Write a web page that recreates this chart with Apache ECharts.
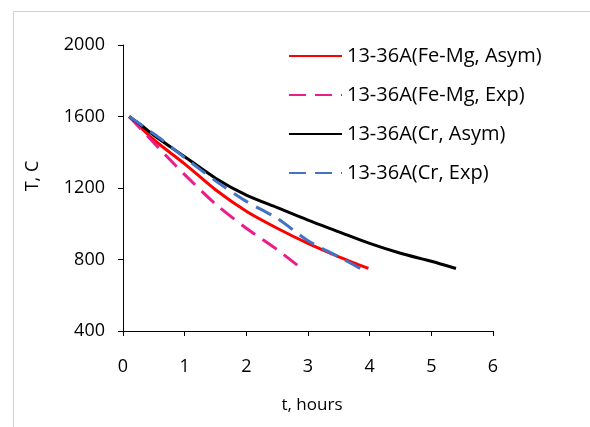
<!DOCTYPE html>
<html>
<head>
<meta charset="utf-8">
<script src="https://cdn.jsdelivr.net/npm/echarts@6/dist/echarts.min.js"></script>
<style>
html,body{margin:0;padding:0;background:#fff;}
#chart{width:590px;height:427px;}
</style>
</head>
<body>
<div id="chart"></div>
<script>
// Data (t in hours, T in °C)
var seriesNames = ['13-36A(Fe-Mg, Asym)', '13-36A(Fe-Mg, Exp)', '13-36A(Cr, Asym)', '13-36A(Cr, Exp)'];
var feMgAsym = [[0.1,1600],[0.5,1470],[1,1335],[1.5,1190],[2,1070],[2.5,975],[3,890],[3.5,815],[3.98,750]];
var feMgExp  = [[0.1,1600],[0.4,1490],[0.7,1380],[1,1275],[1.5,1110],[2,975],[2.5,855],[2.9,748]];
var crAsym   = [[0.1,1600],[0.3,1550],[0.5,1495],[1,1375],[1.5,1255],[2,1160],[2.5,1090],[3,1020],[3.5,955],[4,890],[4.5,835],[5,790],[5.4,750]];
var crExp    = [[0.1,1600],[0.3,1552],[0.6,1478],[1,1370],[1.5,1240],[2,1125],[2.5,1030],[3,905],[3.5,815],[3.87,745]];
var xTicks = [0,1,2,3,4,5,6];
var yTicks = [400,800,1200,1600,2000];
var xTitle = 't, hours';
var yTitle = 'T, C';

var font = '"Open Sans", "Noto Sans", sans-serif';
var chart = echarts.init(document.getElementById('chart'), null, {renderer:'canvas'});

function mk(name, data, color, dashed) {
  return {
    name: name, type: 'line', data: data, symbol: 'none', showSymbol: false, smooth: 0.25,
    lineStyle: {color: color, width: 3, type: dashed ? [17, 9] : 'solid', cap: 'butt'},
    itemStyle: {color: color},
    emphasis: {disabled: true}
  };
}

chart.setOption({
  animation: false,
  backgroundColor: '#fff',
  grid: {left: 123, right: 97, top: 45, bottom: 96, containLabel: false},
  xAxis: {
    type: 'value', min: xTicks[0], max: xTicks[xTicks.length-1], interval: 1,
    axisLine: {show: true, onZero: false, lineStyle: {color: '#000', width: 1}},
    axisTick: {show: true, length: 5, inside: false, lineStyle: {color: '#000'}},
    splitLine: {show: false},
    axisLabel: {fontFamily: font, fontSize: 18, color: '#000', margin: 27, formatter: function(v){return String(v);}}
  },
  yAxis: {
    type: 'value', min: yTicks[0], max: yTicks[yTicks.length-1], interval: 400,
    axisLine: {show: true, lineStyle: {color: '#000', width: 1}},
    axisTick: {show: true, length: 5, inside: false, lineStyle: {color: '#000'}},
    splitLine: {show: false},
    axisLabel: {fontFamily: font, fontSize: 18, color: '#000', margin: 18, formatter: function(v){return String(v);}}
  },
  legend: {
    orient: 'vertical', left: 288, top: 46, padding: 0,
    itemWidth: 53, itemHeight: 14, itemGap: 19,
    data: seriesNames,
    itemStyle: {opacity: 0},
    textStyle: {fontFamily: font, fontSize: 20, color: '#000', lineHeight: 20},
    selectedMode: false
  },
  graphic: [
    {type: 'rect', shape: {x: 13.5, y: 11.5, width: 700, height: 600}, style: {fill: null, stroke: '#d0d0d0', lineWidth: 1}, silent: true, z: -10},
    {type: 'text', x: 312, y: 405, style: {text: xTitle, font: '17px ' + font, fill: '#000', align: 'center', verticalAlign: 'middle'}},
    {type: 'text', x: 33, y: 176, rotation: Math.PI/2, style: {text: yTitle, font: '18px ' + font, fill: '#000', align: 'center', verticalAlign: 'middle'}}
  ],
  series: [
    mk(seriesNames[0], feMgAsym, '#ff0000', false),
    mk(seriesNames[1], feMgExp, '#ec1c8c', true),
    mk(seriesNames[2], crAsym, '#000000', false),
    mk(seriesNames[3], crExp, '#4472c4', true)
  ]
});
</script>
</body>
</html>
